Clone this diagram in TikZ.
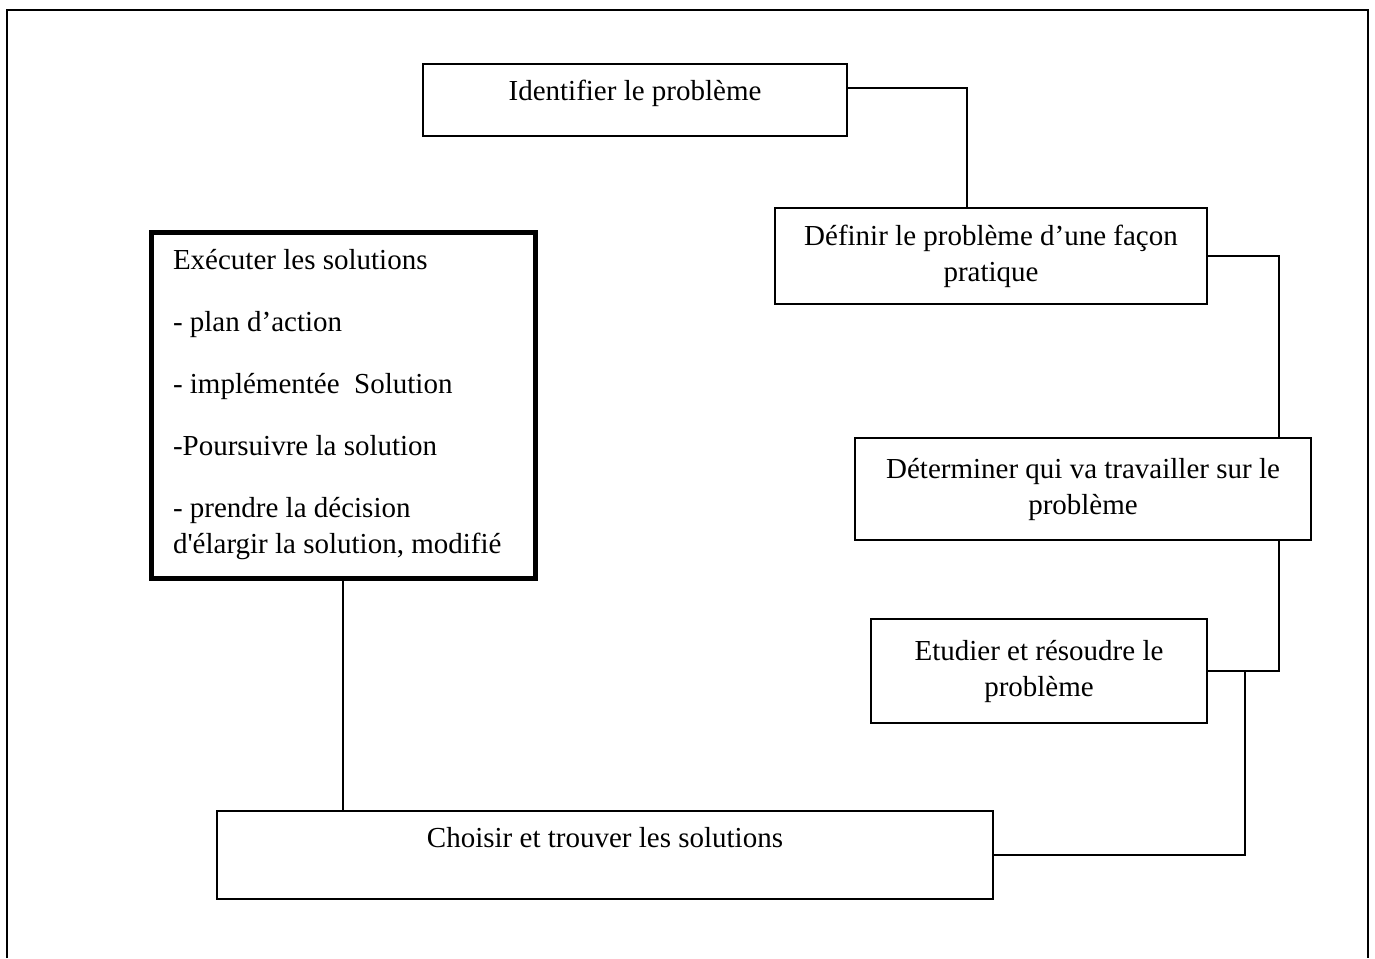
\documentclass[tikz,border=0pt]{standalone}
\usepackage{fontspec}
\setmainfont{Liberation Serif}[Ligatures=TeXOff]
\begin{document}
\begin{tikzpicture}[
	x=0.5pt,
	y=-0.5pt,
	line width=1pt,
	line join=miter,
	box/.style={draw, rectangle, inner sep=0pt, align=center,
		font=\fontsize{14.5}{18}\selectfont},
	thickbox/.style={box, line width=2.5pt, align=flush left, inner xsep=11pt,
		execute at begin node={\spaceskip=0pt\xspaceskip=0pt}},
	]
\useasboundingbox (0,0) rectangle (1375,958);
\draw (7,958) -- (7,10) -- (1368,10) -- (1368,958);
% the steps
\node[box, minimum width=212pt, minimum height=36pt,
	text height=10pt, text depth=10pt] (ident) at (635,100) {Identifier le problème};
\node[box, minimum width=216pt, minimum height=48pt] (def) at (991,256)
	{Définir le problème d’une façon\\pratique};
\node[box, minimum width=228pt, minimum height=51pt] (qui) at (1083,489)
	{Déterminer qui va travailler sur le\\problème};
\node[box, minimum width=168pt, minimum height=52pt] (etud) at (1039,671)
	{Etudier et résoudre le\\problème};
\node[box, minimum width=388pt, minimum height=44pt,
	text height=10pt, text depth=18pt] (choix) at (605,855) {Choisir et trouver les solutions};
\node[thickbox, text width=170pt, minimum height=173pt] (exec) at (343,405)
	{Exécuter les solutions\\[13pt]
	- plan d’action\\[13pt]
	- implémentée\ \ Solution\\[13pt]
	-Poursuivre la solution\\[13pt]
	- prendre la décision\\
	d'élargir la solution, modifié};
% the links
\draw (ident.east |- 0,88) -| (def.north -| 967,0);
\draw (def.east) -| (qui.north -| 1279,0);
\draw (qui.south -| 1279,0) |- (etud.east);
\draw (etud.east -| 1245,0) |- (choix.east);
\draw (exec.south) -- (exec.south |- choix.north);
\end{tikzpicture}
\end{document}
